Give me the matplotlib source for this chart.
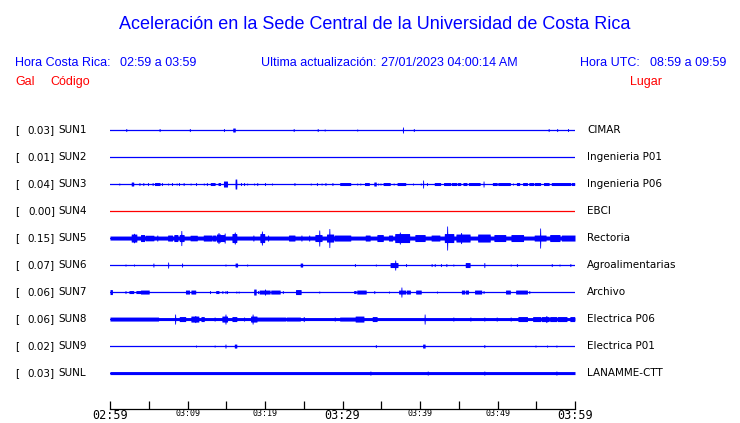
import matplotlib
matplotlib.use('Agg')
import matplotlib.pyplot as plt
import matplotlib.transforms as mtransforms
import numpy as np

W, H = 740, 423

# estaciones de la red
codes = ['SUN1', 'SUN2', 'SUN3', 'SUN4', 'SUN5', 'SUN6', 'SUN7', 'SUN8', 'SUN9', 'SUNL']
peaks = [0.03, 0.01, 0.04, 0.00, 0.15, 0.07, 0.06, 0.06, 0.02, 0.03]
places = ['CIMAR', 'Ingenieria P01', 'Ingenieria P06', 'EBCI', 'Rectoria',
          'Agroalimentarias', 'Archivo', 'Electrica P06', 'Electrica P01', 'LANAMME-CTT']
# nivel de ruido de fondo (amplitud media)
noise = [0, 0, 0, 0, 2.0, 0, 0, 1.5, 0, 1.5]
trace_colors = ['#0000ff'] * 3 + ['#ff0000'] + ['#0000ff'] * 6

ev_sun1 = [(2.1, 2.1, 1.5), (6.4, 6.4, 1.5), (10.3, 10.3, 1.5), (14.7, 14.7, 1.5),
           (15.9, 16.1, 2.0), (23.7, 23.7, 1.5), (26.8, 26.8, 1.5), (27.7, 27.7, 1.0),
           (31.9, 31.9, 1.0), (37.8, 37.8, 3.0), (39.2, 39.2, 1.5), (56.6, 56.6, 1.5),
           (57.7, 57.7, 1.5), (59.1, 59.1, 1.5)]
ev_sun2 = []
ev_sun3 = [(1.2, 1.2, 1.0), (2.8, 3.0, 2.0), (3.8, 3.8, 1.5), (4.3, 4.3, 1.5), (4.9, 4.9, 1.5),
           (5.5, 5.5, 1.5), (5.8, 6.4, 1.5), (6.7, 6.7, 1.5), (7.5, 7.5, 1.0), (8.0, 8.0, 1.5),
           (8.6, 8.6, 1.0), (8.9, 8.9, 1.5), (9.5, 9.5, 1.5), (10.4, 10.4, 1.0), (11.1, 11.1, 1.5),
           (12.1, 12.1, 1.0), (12.5, 12.5, 1.5), (13.0, 13.5, 1.5), (14.0, 14.2, 1.5),
           (14.7, 15.1, 3.0), (16.2, 16.3, 5.0), (16.9, 16.9, 1.5), (17.3, 17.3, 1.5),
           (17.7, 17.7, 1.0), (18.6, 18.6, 1.0), (19.0, 19.0, 1.5), (20.0, 20.0, 1.5),
           (20.9, 20.9, 1.0), (23.8, 23.8, 1.5), (25.9, 25.9, 1.0), (26.7, 26.7, 1.5),
           (27.3, 27.3, 1.0), (27.8, 27.8, 1.5), (28.7, 28.7, 1.5), (29.7, 31.0, 1.5),
           (31.9, 31.9, 1.0), (32.3, 32.3, 1.0), (32.9, 33.4, 1.5), (34.1, 34.3, 2.0),
           (34.6, 34.6, 1.0), (34.9, 34.9, 1.0), (35.3, 36.1, 1.5), (36.6, 36.6, 1.0),
           (37.1, 38.1, 1.5), (39.1, 39.1, 1.0), (40.1, 40.1, 1.0), (40.4, 40.4, 4.0),
           (40.9, 40.9, 1.5), (41.9, 42.6, 1.5), (43.1, 43.9, 1.5), (44.1, 44.7, 1.5),
           (44.9, 45.2, 1.5), (45.6, 46.0, 1.5), (46.3, 47.7, 1.5), (48.2, 48.2, 3.0),
           (49.4, 49.9, 1.5), (50.1, 51.6, 1.5), (52.0, 52.0, 1.0), (52.5, 52.8, 1.5),
           (53.3, 53.8, 1.5), (54.1, 54.6, 1.5), (54.8, 55.5, 1.5), (56.0, 56.6, 1.5),
           (57.0, 57.6, 1.5), (57.7, 59.4, 1.5), (59.6, 59.9, 1.5)]
ev_sun4 = []
ev_sun5 = [(2.8, 3.4, 4.0), (3.1, 3.1, 4.7), (4.0, 4.4, 3.5), (4.6, 5.6, 2.8), (6.1, 6.1, 3.0),
           (7.5, 8.0, 3.0), (8.3, 8.7, 3.5), (9.0, 9.5, 3.5), (9.2, 9.2, 7.5), (10.4, 11.2, 2.8),
           (12.1, 13.1, 3.0), (13.3, 13.6, 3.0), (13.8, 14.2, 4.0), (14.0, 14.0, 5.5),
           (14.3, 14.7, 3.5), (14.8, 14.8, 5.0), (15.8, 16.3, 4.5), (16.1, 16.1, 6.0),
           (18.5, 18.5, 3.0), (19.4, 19.9, 4.5), (19.6, 19.6, 7.0), (20.4, 20.4, 3.0),
           (23.1, 23.8, 3.0), (24.7, 24.7, 3.0), (25.7, 25.7, 3.0), (26.5, 27.3, 3.5),
           (27.0, 27.0, 8.0), (28.0, 28.8, 4.0), (28.3, 28.3, 9.5), (29.0, 29.7, 3.0),
           (29.8, 31.0, 3.0), (33.0, 33.5, 3.0), (34.5, 35.2, 3.5), (36.0, 36.4, 3.0),
           (36.8, 38.6, 4.5), (37.4, 37.4, 6.0), (39.4, 40.6, 3.5), (41.5, 42.5, 3.0),
           (43.2, 44.3, 4.5), (43.5, 43.5, 12.0), (44.7, 46.4, 4.0), (45.3, 45.3, 5.5),
           (47.5, 49.0, 4.0), (49.6, 51.0, 3.5), (51.8, 53.3, 3.5), (54.8, 56.2, 3.0),
           (55.5, 55.5, 10.0), (56.8, 58.0, 3.5), (58.3, 60.0, 3.0)]
ev_sun6 = [(2.0, 2.0, 1.0), (3.1, 3.1, 1.0), (5.6, 5.6, 2.0), (7.5, 7.5, 3.0), (9.3, 9.3, 2.0),
           (14.9, 14.9, 1.0), (16.2, 16.4, 2.0), (17.7, 17.7, 1.0), (24.6, 24.8, 2.0),
           (31.6, 31.6, 1.5), (34.3, 34.3, 1.0), (36.2, 37.1, 2.5), (36.8, 36.8, 5.0),
           (38.2, 38.2, 1.5), (41.5, 41.5, 1.5), (41.9, 41.9, 1.5), (42.7, 42.7, 1.5),
           (43.4, 43.4, 1.5), (44.3, 44.3, 1.0), (45.9, 46.4, 2.5), (48.3, 48.3, 2.5),
           (51.7, 51.7, 1.0), (52.5, 52.5, 1.5), (57.0, 57.0, 1.5), (58.0, 58.0, 1.0),
           (59.4, 59.4, 1.5)]
ev_sun7 = [(0.0, 0.26, 2.5), (2.0, 2.0, 1.5), (2.5, 3.0, 1.5), (3.4, 3.9, 1.5), (4.0, 5.0, 2.0),
           (9.8, 10.2, 2.0), (10.5, 11.0, 2.0), (12.9, 12.9, 1.5), (13.7, 14.0, 1.5),
           (14.5, 14.5, 1.5), (14.9, 14.9, 1.5), (15.1, 15.1, 1.5), (16.3, 16.3, 1.0),
           (16.6, 16.6, 1.0), (18.6, 18.8, 3.0), (19.1, 19.1, 1.5), (19.3, 20.6, 2.0),
           (20.0, 20.0, 3.0), (20.8, 21.9, 2.0), (22.3, 22.3, 1.5), (24.0, 24.6, 2.5),
           (27.0, 27.0, 1.0), (31.5, 31.7, 1.5), (31.9, 33.0, 2.0), (34.1, 34.1, 1.5),
           (36.0, 36.0, 1.0), (37.3, 38.1, 2.0), (37.6, 37.6, 5.0), (38.3, 38.7, 2.0),
           (39.5, 40.1, 2.0), (42.2, 42.2, 1.0), (45.4, 45.7, 2.0), (45.9, 46.2, 2.0),
           (47.1, 47.9, 2.0), (48.2, 48.2, 1.5), (51.1, 51.6, 2.0), (52.4, 53.8, 2.0),
           (54.1, 54.1, 1.5)]
ev_sun8 = [(0.0, 6.2, 2.0), (8.4, 8.4, 5.0), (9.0, 9.7, 2.5), (10.5, 11.4, 3.0), (11.0, 11.0, 3.5),
           (11.8, 12.1, 2.5), (13.5, 13.5, 2.0), (14.5, 15.1, 3.0), (14.9, 14.9, 5.0),
           (15.8, 16.3, 2.5), (17.3, 17.3, 2.0), (18.2, 18.9, 3.0), (18.4, 18.4, 5.0),
           (18.9, 22.6, 2.0), (22.8, 24.5, 2.0), (25.0, 25.0, 2.5), (29.0, 29.0, 2.0),
           (29.7, 31.6, 2.0), (31.7, 32.7, 3.0), (33.9, 34.4, 2.5), (40.6, 40.6, 5.0),
           (44.3, 44.3, 2.0), (46.5, 46.5, 2.0), (48.3, 48.3, 2.0), (49.9, 49.9, 2.0),
           (51.7, 51.7, 2.0), (52.7, 53.8, 2.5), (54.6, 55.5, 2.5), (55.7, 56.6, 2.5),
           (56.3, 56.3, 3.5), (56.8, 57.6, 2.5), (57.8, 58.9, 2.5), (59.4, 59.9, 2.5)]
ev_sun9 = [(11.1, 11.1, 1.0), (13.5, 13.5, 1.0), (14.9, 14.9, 2.0), (16.1, 16.3, 2.0),
           (34.3, 34.3, 1.5), (40.4, 40.6, 2.0), (48.3, 48.3, 1.5), (54.9, 54.9, 1.0),
           (56.4, 56.4, 1.0), (57.6, 57.6, 1.0)]
ev_sunl = [(33.6, 33.6, 2.0), (41.0, 41.0, 2.0), (48.3, 48.3, 2.0), (57.6, 57.6, 2.0)]
events = [ev_sun1, ev_sun2, ev_sun3, ev_sun4, ev_sun5, ev_sun6, ev_sun7, ev_sun8, ev_sun9, ev_sunl]

tick_minutes = np.arange(0, 61, 5)
tick_labels = ['02:59', '', '03:09', '', '03:19', '', '03:29', '', '03:39', '', '03:49', '', '03:59']
big_labels = ['02:59', '03:29', '03:59']

fig = plt.figure(figsize=(W / 100, H / 100), dpi=100)
ax = fig.add_axes([110 / W, 14 / H, 465 / W, 294 / H])

t = np.linspace(0, 60, 2401)
amp_to_row = 1 / 27.0
for i, ev in enumerate(events):
    env = np.full_like(t, noise[i])
    for t0, t1, a in ev:
        m = (t >= t0 - 0.06) & (t <= t1 + 0.06)
        env[m] = np.maximum(env[m], a)
    env = env * amp_to_row
    ax.fill_between(t, i - env, i + env, color=trace_colors[i], lw=0)
    ax.plot([0, 60], [i, i], color=trace_colors[i], lw=0.9)

ax.set_xlim(0, 60)
ax.set_ylim(10.33, -0.556)
for s in ['top', 'left', 'right']:
    ax.spines[s].set_visible(False)
ax.spines['bottom'].set_linewidth(0.9)
ax.set_yticks([])
ax.set_xticks(tick_minutes)
ax.set_xticklabels(tick_labels, family='DejaVu Sans Mono')
ax.tick_params(axis='x', direction='in', length=6, width=0.9, pad=0.3)
for lab in ax.get_xticklabels():
    lab.set_fontsize(8.5 if lab.get_text() in big_labels else 6)

# etiquetas de cada estacion
tr = mtransforms.blended_transform_factory(fig.transFigure, ax.transData)
for i in range(len(codes)):
    ax.text(15 / W, i, '[', transform=tr, fontsize=7.5, va='center', ha='left')
    ax.text(55 / W, i, '%.2f]' % peaks[i], transform=tr, fontsize=7.5, va='center', ha='right')
    ax.text(58.5 / W, i, codes[i], transform=tr, fontsize=7.5, va='center', ha='left')
    ax.text(587 / W, i, places[i], transform=tr, fontsize=7.5, va='center', ha='left')

# encabezado
hf = 'Liberation Sans'
fig.text(375 / W, 1 - 29 / H, 'Aceleración en la Sede Central de la Universidad de Costa Rica',
         family=hf, fontsize=13, color='#0000ff', ha='center', va='baseline')
fig.text(15 / W, 1 - 66 / H, 'Hora Costa Rica:', family=hf, fontsize=9, color='#0000ff', va='baseline')
fig.text(120 / W, 1 - 66 / H, '02:59 a 03:59', family=hf, fontsize=9, color='#0000ff', va='baseline')
fig.text(261 / W, 1 - 66 / H, 'Ultima actualización:', family=hf, fontsize=9, color='#0000ff', va='baseline')
fig.text(381 / W, 1 - 66 / H, '27/01/2023 04:00:14 AM', family=hf, fontsize=9, color='#0000ff', va='baseline')
fig.text(580.5 / W, 1 - 66 / H, 'Hora UTC:', family=hf, fontsize=9, color='#0000ff', va='baseline')
fig.text(650.5 / W, 1 - 66 / H, '08:59 a 09:59', family=hf, fontsize=9, color='#0000ff', va='baseline')
fig.text(15 / W, 1 - 85 / H, 'Gal', family=hf, fontsize=9, color='#ff0000', va='baseline')
fig.text(50 / W, 1 - 85 / H, 'Código', family=hf, fontsize=9, color='#ff0000', va='baseline')
fig.text(630 / W, 1 - 85 / H, 'Lugar', family=hf, fontsize=9, color='#ff0000', va='baseline')

fig.savefig('out.png', dpi=100)
